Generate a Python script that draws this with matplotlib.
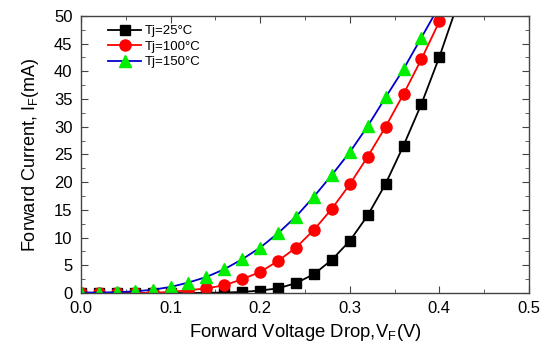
import matplotlib
matplotlib.use("Agg")
import matplotlib.pyplot as plt
from matplotlib.ticker import MultipleLocator
import numpy as np

plt.rcParams['font.family'] = ['Liberation Sans', 'DejaVu Sans']
plt.rcParams['mathtext.fontset'] = 'custom'
plt.rcParams['mathtext.rm'] = 'Liberation Sans'

# forward voltage (V)
vf = [0.00, 0.02, 0.04, 0.06, 0.08, 0.10, 0.12, 0.14, 0.16, 0.18, 0.20,
      0.22, 0.24, 0.26, 0.28, 0.30, 0.32, 0.34, 0.36, 0.38, 0.40, 0.42]

# forward current (mA)
i_25 = [0.0, 0.0, 0.0, 0.0, 0.0, 0.0, 0.0, 0.05, 0.1, 0.2, 0.45,
        0.85, 1.8, 3.4, 6.0, 9.4, 14.0, 19.7, 26.6, 34.1, 42.6, 52.0]
i_100 = [0.0, 0.0, 0.0, 0.0, 0.05, 0.2, 0.5, 0.85, 1.4, 2.5, 3.8,
         5.8, 8.2, 11.4, 15.2, 19.6, 24.6, 30.0, 35.9, 42.2, 49.0, 56.0]
i_150 = [0.1, 0.1, 0.15, 0.3, 0.6, 1.1, 1.9, 2.9, 4.3, 6.1, 8.2,
         10.8, 13.8, 17.4, 21.3, 25.4, 30.1, 35.3, 40.4, 46.1, 51.8, 58.0]

labels = ['Tj=25°C', 'Tj=100°C', 'Tj=150°C']

fig = plt.figure(figsize=(5.47, 3.46), dpi=100)
ax = fig.add_axes([0.148, 0.153, 0.819, 0.801])

ax.plot(vf, i_25, color='black', lw=1.3, marker='s', ms=6.5,
        mfc='black', mec='black', label=labels[0])
ax.plot(vf, i_100, color='red', lw=1.3, marker='o', ms=8,
        mfc='red', mec='red', label=labels[1])
ax.plot(vf, i_150, color='#0000cc', lw=1.3, marker='^', ms=8.5,
        mfc='#00ee00', mec='#00ee00', label=labels[2])

ax.set_xlim(0, 0.5)
ax.set_ylim(0, 50)
ax.xaxis.set_major_locator(MultipleLocator(0.1))
ax.xaxis.set_minor_locator(MultipleLocator(0.05))
ax.yaxis.set_major_locator(MultipleLocator(5))
ax.yaxis.set_minor_locator(MultipleLocator(2.5))
ax.xaxis.set_major_formatter(matplotlib.ticker.FormatStrFormatter('%.1f'))
ax.tick_params(which='both', direction='in', top=True, right=True,
               labelsize=12, color='#444444')
ax.tick_params(axis='x', pad=6)
ax.tick_params(axis='y', pad=6)
ax.tick_params(which='major', length=5)
ax.tick_params(which='minor', length=3)
for s in ax.spines.values():
    s.set_color('#444444')
    s.set_linewidth(1.0)

ax.set_xlabel(r'Forward Voltage Drop,V$_\mathregular{F}$(V)', fontsize=13.3,
              labelpad=4)
ax.set_ylabel(r'Forward Current, I$_\mathregular{F}$(mA)', fontsize=13,
              labelpad=9)

ax.legend(loc='upper left', frameon=False, fontsize=9.5,
          bbox_to_anchor=(0.04, 1.0), handlelength=2.5, labelspacing=0.25,
          handletextpad=0.3, borderaxespad=0.3)

fig.savefig('out.png', dpi=100)
